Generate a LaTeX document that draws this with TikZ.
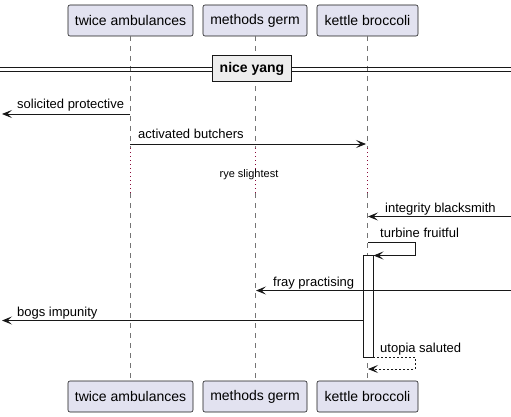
\documentclass[tikz,border=0pt]{standalone}
\usepackage{fontspec}
\setmainfont{Liberation Sans}
\usetikzlibrary{arrows.meta}
\definecolor{partfill}{HTML}{E2E2F0}
\definecolor{ink}{HTML}{181818}
\definecolor{delayc}{HTML}{8B0A3A}
\begin{document}
\begin{tikzpicture}[x=1pt,y=-1pt,
  part/.style={draw=ink,fill=partfill,rounded corners=2pt,line width=0.6pt,minimum height=31pt,inner sep=0pt,font=\fontsize{14}{16}\selectfont},
  life/.style={draw=ink!60,dash pattern=on 5pt off 5pt,line width=0.6pt},
  delay/.style={draw=delayc,dash pattern=on 1pt off 3pt,line width=0.8pt},
  msg/.style={draw=ink,line width=0.8pt,-{Stealth[length=10pt,width=8pt,inset=4.5pt]}},
  ret/.style={msg,dash pattern=on 2pt off 2pt},
  lbl/.style={anchor=base west,inner sep=0pt,font=\fontsize{13}{15}\selectfont},
  small/.style={anchor=base,inner sep=0pt,font=\fontsize{11}{13}\selectfont},
  actbox/.style={draw=ink,fill=white,line width=0.8pt}
]
\useasboundingbox (0,0) rectangle (511,417);
% participants
\node[part,minimum width=125pt] (a1) at (130.5,20.5) {twice ambulances};
\node[part,minimum width=104pt] (b1) at (255,20.5) {methods germ};
\node[part,minimum width=101pt] (c1) at (367.5,20.5) {kettle broccoli};
\node[part,minimum width=125pt] (a2) at (130.5,396.5) {twice ambulances};
\node[part,minimum width=104pt] (b2) at (255,396.5) {methods germ};
\node[part,minimum width=101pt] (c2) at (367.5,396.5) {kettle broccoli};
% lifeline coordinates
\coordinate (aT) at (130,36); \coordinate (aD1) at (130,148); \coordinate (aD2) at (130,193); \coordinate (aB) at (130,381);
\coordinate (bT) at (255,36); \coordinate (bD1) at (255,148); \coordinate (bD2) at (255,193); \coordinate (bB) at (255,381);
\coordinate (cT) at (367,36); \coordinate (cD1) at (367,148); \coordinate (cD2) at (367,193); \coordinate (cB) at (367,381);
\draw[life] (aT) -- (aD1); \draw[delay] (aD1) -- (aD2); \draw[life] (aD2) -- (aB);
\draw[life] (bT) -- (bD1); \draw[delay] (bD1) -- (bD2); \draw[life] (bD2) -- (bB);
\draw[life] (cT) -- (cD1); \draw[delay] (cD1) -- (cD2); \draw[life] (cD2) -- (cB);
% divider
\coordinate (dL1) at (0,67.5); \coordinate (dR1) at (511,67.5);
\coordinate (dL2) at (0,71); \coordinate (dR2) at (511,71);
\draw[ink,line width=0.8pt] (dL1) -- (dR1);
\draw[ink,line width=0.8pt] (dL2) -- (dR2);
\node[draw=ink,fill=black!7,line width=1.6pt,minimum width=79pt,minimum height=26pt,inner sep=0pt,font=\bfseries\fontsize{14}{16}\selectfont] (div) at (252,68.5) {nice yang};
% activation
\node[actbox,minimum width=10pt,minimum height=102pt,inner sep=0pt] (act) at (368,306) {};
% messages
\coordinate (m1s) at (130,114); \coordinate (m1e) at (2,114);
\draw[msg] (m1s) -- (m1e);
\node[lbl] (t1) at (17,109) {solicited protective};
\coordinate (m2s) at (130,144); \coordinate (m2e) at (366,144);
\draw[msg] (m2s) -- (m2e);
\node[lbl] (t2) at (138,139) {activated butchers};
\node[small] (t3) at (249,177) {rye slightest};
\coordinate (m4s) at (511,216.5); \coordinate (m4e) at (368,216.5);
\draw[msg] (m4s) -- (m4e);
\node[lbl] (t4) at (385,212) {integrity blacksmith};
\coordinate (m5a) at (368,242.5); \coordinate (m5b) at (415,242.5); \coordinate (m5c) at (415,255.5); \coordinate (m5d) at (373.5,255.5);
\draw[msg] (m5a) -- (m5b) -- (m5c) -- (m5d);
\node[lbl] (t5) at (380,237.5) {turbine fruitful};
\coordinate (m6s) at (511,290.5); \coordinate (m6e) at (256,290.5);
\draw[msg] (m6s) -- (m6e);
\node[lbl] (t6) at (273,286) {fray practising};
\coordinate (m7e) at (2,320.5);
\draw[msg] (act.west |- m7e) -- (m7e);
\node[lbl] (t7) at (17,316) {bogs impunity};
\coordinate (m8a) at (373,357) ; \coordinate (m8b) at (415,357); \coordinate (m8c) at (415,369); \coordinate (m8d) at (368,369);
\draw[ret] (m8a) -- (m8b) -- (m8c) -- (m8d);
\node[lbl] (t8) at (380,352) {utopia saluted};
\end{tikzpicture}
\end{document}
